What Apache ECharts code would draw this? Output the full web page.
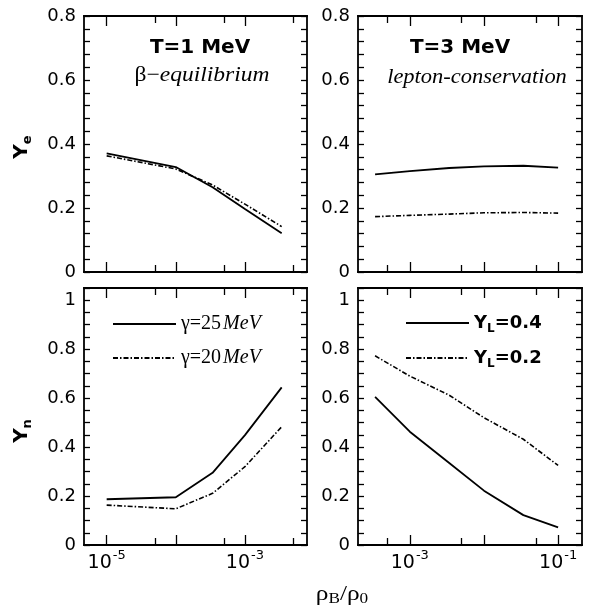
<!DOCTYPE html>
<html><head><meta charset="utf-8">
<script src="https://cdn.jsdelivr.net/npm/echarts@6/dist/echarts.min.js"></script>
<style>html,body{margin:0;padding:0;background:#fff}#c{width:591px;height:607px}</style>
</head><body><div id="c"></div>
<script>
// ---- data (x = rho_B/rho_0) ----
const densLeft = [1e-5, 1e-4, 3.4e-4, 1e-3, 3.4e-3];
const yeT1Gamma25 = [0.371, 0.328, 0.265, 0.197, 0.121];
const yeT1Gamma20 = [0.363, 0.322, 0.272, 0.212, 0.142];
const ynT1Gamma25 = [0.187, 0.195, 0.295, 0.449, 0.644];
const ynT1Gamma20 = [0.163, 0.148, 0.211, 0.320, 0.483];
const densRight = [3.4e-4, 1e-3, 3.4e-3, 1e-2, 3.4e-2, 1e-1];
const yeT3YL04 = [0.305, 0.315, 0.325, 0.330, 0.332, 0.326];
const yeT3YL02 = [0.173, 0.177, 0.181, 0.185, 0.186, 0.184];
const ynT3YL04 = [0.605, 0.463, 0.335, 0.222, 0.122, 0.072];
const ynT3YL02 = [0.773, 0.690, 0.612, 0.520, 0.432, 0.325];
// ---- ticks / labels ----
const leftRange = [4.7e-6, 7.9e-3];
const rightRange = [2.0e-4, 2.1e-1];
const leftDecadeTicks = [1e-5, 1e-4, 1e-3];
const leftHalfTicks = [5e-5, 5e-4, 5e-3];
const leftTickLabels = [1e-5, 1e-3];
const rightDecadeTicks = [1e-3, 1e-2, 1e-1];
const rightHalfTicks = [5e-4, 5e-3, 5e-2];
const rightTickLabels = [1e-3, 1e-1];
const yeMax = 0.8, yeStep = 0.04;
const ynMax = 1.05, ynStep = 0.05;
const yLabelStep = 0.2;
const nameG25 = 'γ=25 MeV', nameG20 = 'γ=20 MeV';
const nameYL04 = 'YL=0.4', nameYL02 = 'YL=0.2';

const L = Math.log10;
const BLACK = '#000';
const SANS = 'DejaVu Sans';
const SERIF = 'Liberation Serif';

const grids = [
  {left: 84, top: 16, width: 223, height: 256},
  {left: 358, top: 16, width: 224, height: 256},
  {left: 84, top: 288, width: 223, height: 257},
  {left: 358, top: 288, width: 224, height: 257}
];

const xAxis = [], yAxis = [];
function addX(gi, range, decades, halves, labels, showLabels) {
  const base = {
    type: 'value', gridIndex: gi, min: L(range[0]), max: L(range[1]),
    splitLine: {show: false},
    axisLine: {onZero: false, lineStyle: {color: BLACK, width: 1.8}},
    axisLabel: {show: false}
  };
  const idx = xAxis.length;
  const tick = (vals, len) => ({show: true, inside: true, length: len, customValues: vals.map(L), lineStyle: {color: BLACK, width: 1.3}});
  xAxis.push(Object.assign({}, base, {
    position: 'bottom', axisTick: tick(decades, 10),
    axisLabel: showLabels ? {
      show: true, customValues: labels.map(L), margin: 4,
      formatter: v => '{b|10}{s|-' + Math.round(-v) + '}',
      rich: {
        b: {fontFamily: SANS, fontSize: 19, color: BLACK, lineHeight: 24, verticalAlign: 'bottom'},
        s: {fontFamily: SANS, fontSize: 13, color: BLACK, lineHeight: 24, verticalAlign: 'top', padding: [0, 0, 0, 1]}
      }
    } : {show: false}
  }));
  xAxis.push(Object.assign({}, base, {position: 'bottom', axisTick: tick(halves, 7)}));
  xAxis.push(Object.assign({}, base, {position: 'top', axisTick: tick(decades, 10)}));
  xAxis.push(Object.assign({}, base, {position: 'top', axisTick: tick(halves, 7)}));
  return idx;
}
function yFmt(v) {
  const r = Math.round(v / yLabelStep);
  if (Math.abs(v - r * yLabelStep) > 1e-6) return '';
  return String(+(r * yLabelStep).toFixed(1));
}
function addY(gi, max, step) {
  const base = {
    type: 'value', gridIndex: gi, min: 0, max: max, interval: step,
    splitLine: {show: false},
    axisLine: {onZero: false, lineStyle: {color: BLACK, width: 1.8}},
    axisTick: {show: true, inside: true, length: 6, lineStyle: {color: BLACK, width: 1.3}}
  };
  const idx = yAxis.length;
  yAxis.push(Object.assign({}, base, {
    position: 'left',
    axisLabel: {show: true, margin: 8, formatter: yFmt, fontFamily: SANS, fontSize: 18, color: BLACK}
  }));
  yAxis.push(Object.assign({}, base, {position: 'right', axisLabel: {show: false}}));
  return idx;
}

const xTL = addX(0, leftRange, leftDecadeTicks, leftHalfTicks, leftTickLabels, false);
const yTL = addY(0, yeMax, yeStep);
const xTR = addX(1, rightRange, rightDecadeTicks, rightHalfTicks, rightTickLabels, false);
const yTR = addY(1, yeMax, yeStep);
const xBL = addX(2, leftRange, leftDecadeTicks, leftHalfTicks, leftTickLabels, true);
const yBL = addY(2, ynMax, ynStep);
const xBR = addX(3, rightRange, rightDecadeTicks, rightHalfTicks, rightTickLabels, true);
const yBR = addY(3, ynMax, ynStep);

const DASH = [5, 2, 1.5, 2];
function line(name, xs, ys, xi, yi, dashed) {
  return {
    type: 'line', name: name, xAxisIndex: xi, yAxisIndex: yi,
    data: xs.map((x, i) => [L(x), ys[i]]),
    symbol: 'none', showSymbol: false, silent: true, animation: false,
    color: BLACK,
    lineStyle: {color: BLACK, width: dashed ? 1.6 : 1.8, type: dashed ? DASH : 'solid'}
  };
}
const series = [
  line(nameG25, densLeft, yeT1Gamma25, xTL, yTL, false),
  line(nameG20, densLeft, yeT1Gamma20, xTL, yTL, true),
  line(nameYL04, densRight, yeT3YL04, xTR, yTR, false),
  line(nameYL02, densRight, yeT3YL02, xTR, yTR, true),
  line(nameG25, densLeft, ynT1Gamma25, xBL, yBL, false),
  line(nameG20, densLeft, ynT1Gamma20, xBL, yBL, true),
  line(nameYL04, densRight, ynT3YL04, xBR, yBR, false),
  line(nameYL02, densRight, ynT3YL02, xBR, yBR, true)
];

const legendCommon = {
  orient: 'vertical', padding: 0, itemWidth: 63, itemHeight: 14, itemGap: 14,
  selectedMode: false, itemStyle: {opacity: 0}
};
const legend = [
  Object.assign({}, legendCommon, {
    data: [nameG25, nameG20], left: 112, top: 314,
    formatter: n => n.replace(/^(γ=\d+)\s*(MeV)$/, '{g|$1}{i|$2}'),
    textStyle: {
      color: BLACK,
      rich: {
        g: {fontFamily: SERIF, fontSize: 20, color: BLACK},
        i: {fontFamily: SERIF, fontSize: 20, fontStyle: 'italic', color: BLACK, padding: [0, 0, 0, 2]}
      }
    }
  }),
  Object.assign({}, legendCommon, {
    data: [nameYL04, nameYL02], left: 405, top: 314,
    formatter: n => n.replace(/^Y(L)(=.*)$/, '{b|Y}{s|$1}{b|$2}'),
    textStyle: {
      color: BLACK,
      rich: {
        b: {fontFamily: SANS, fontSize: 18, fontWeight: 'bold', color: BLACK, lineHeight: 24, verticalAlign: 'middle'},
        s: {fontFamily: SANS, fontSize: 12, fontWeight: 'bold', color: BLACK, lineHeight: 24, verticalAlign: 'bottom'}
      }
    }
  })
];

function gtext(x, y, text, rich, opts) {
  return Object.assign({
    type: 'text', x: x, y: y, silent: true,
    style: {text: text, align: 'center', verticalAlign: 'middle', rich: rich, fill: BLACK}
  }, opts || {});
}
const graphic = [
  gtext(200, 48, 'T=1 MeV', null, {style: {text: 'T=1 MeV', align: 'center', verticalAlign: 'middle', font: 'bold 20px "DejaVu Sans"', fill: BLACK}}),
  gtext(460, 48, 'T=3 MeV', null, {style: {text: 'T=3 MeV', align: 'center', verticalAlign: 'middle', font: 'bold 20px "DejaVu Sans"', fill: BLACK}}),
  gtext(202, 75, '{u|β−}{i|equilibrium}', {
    u: {fontFamily: SERIF, fontSize: 21, fill: BLACK},
    i: {fontFamily: SERIF, fontSize: 21, fontStyle: 'italic', fill: BLACK}
  }, {scaleX: 1.12}),
  gtext(477, 77, '{i|lepton-conservation}', {
    i: {fontFamily: SERIF, fontSize: 21, fontStyle: 'italic', fill: BLACK}
  }, {scaleX: 1.07}),
  gtext(342, 594, '{r|ρ}{s|B}{r|/ρ}{s|0}', {
    r: {fontFamily: SERIF, fontSize: 22, fill: BLACK, lineHeight: 26, verticalAlign: 'middle'},
    s: {fontFamily: SERIF, fontSize: 15, fill: BLACK, lineHeight: 26, verticalAlign: 'bottom'}
  }, {scaleX: 1.15}),
  gtext(22, 147, '{b|Y}{s|e}', {
    b: {fontFamily: SANS, fontSize: 20, fontWeight: 'bold', fill: BLACK, lineHeight: 24, verticalAlign: 'middle'},
    s: {fontFamily: SANS, fontSize: 13, fontWeight: 'bold', fill: BLACK, lineHeight: 24, verticalAlign: 'bottom'}
  }, {rotation: Math.PI / 2}),
  gtext(22, 431, '{b|Y}{s|n}', {
    b: {fontFamily: SANS, fontSize: 20, fontWeight: 'bold', fill: BLACK, lineHeight: 24, verticalAlign: 'middle'},
    s: {fontFamily: SANS, fontSize: 13, fontWeight: 'bold', fill: BLACK, lineHeight: 24, verticalAlign: 'bottom'}
  }, {rotation: Math.PI / 2})
];

const chart = echarts.init(document.getElementById('c'), null, {renderer: 'canvas'});
chart.setOption({
  backgroundColor: '#fff',
  animation: false,
  grid: grids,
  xAxis: xAxis,
  yAxis: yAxis,
  series: series,
  legend: legend,
  graphic: graphic
});
</script>
</body></html>
